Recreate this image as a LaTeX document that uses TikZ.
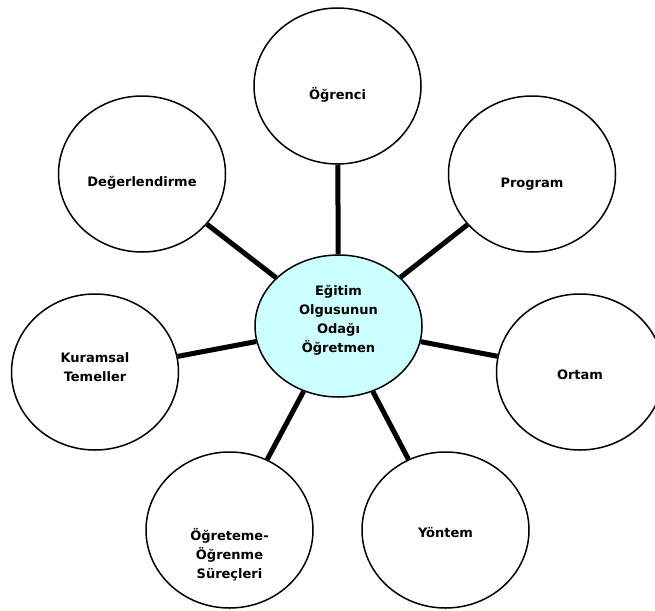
\documentclass[tikz,border=0pt]{standalone}
\usepackage{fontspec}
\setmainfont{DejaVu Sans}
\usepackage{tikz}
\usetikzlibrary{positioning,shapes.geometric}

\definecolor{hubcyan}{RGB}{204,255,255}

\begin{document}
\begin{tikzpicture}[
  x=1pt,y=-1pt,
  bubble/.style={ellipse,draw,line width=1.5pt,fill=white,inner sep=0pt,minimum width=167pt,minimum height=156pt},
  hub/.style={bubble,fill=hubcyan,minimum height=142pt},
  txt/.style={font=\fontsize{13}{19}\selectfont\bfseries,align=center,inner sep=0pt},
  spoke/.style={line width=5pt},
]
\useasboundingbox (0,0) rectangle (655,610);

% Centre
\node[hub,label={[txt,yshift=6pt]center:Eğitim\\Olgusunun\\Odağı\\Öğretmen}] (hub) at (338.5,326) {};

% Outer bubbles
\node[bubble,label={[txt,yshift=-9pt]center:Öğrenci}] (ogrenci) at (337.5,86) {};
\node[bubble,label={[txt,yshift=-10pt]center:Program}] (program) at (532,174) {};
\node[bubble,label={[txt,yshift=-9pt]center:Değerlendirme}] (deger) at (142,174) {};
\node[bubble,label={[txt,yshift=5pt]center:Kuramsal\\Temeller}] (kuram) at (95,372) {};
\node[bubble,label={[txt,yshift=-3pt]center:Ortam}] (ortam) at (580,372) {};
\node[bubble,label={[txt,yshift=-3pt]center:Yöntem}] (yontem) at (445.5,530) {};
\node[bubble,label={[txt,yshift=-25pt]center:Öğreteme-\\Öğrenme\\Süreçleri}] (surec) at (229.5,530) {};

% Spokes
\draw[spoke] (hub) -- (ogrenci);
\draw[spoke] (hub) -- (program);
\draw[spoke] (hub) -- (deger);
\draw[spoke] (hub) -- (kuram);
\draw[spoke] (hub) -- (ortam);
\draw[spoke] (hub) -- (yontem);
\draw[spoke] (hub) -- (surec);

\end{tikzpicture}
\end{document}
